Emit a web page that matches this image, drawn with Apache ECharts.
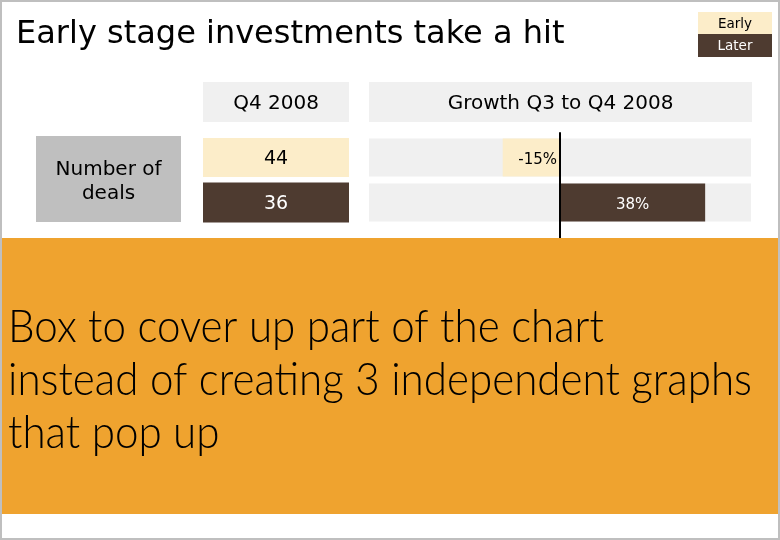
<!DOCTYPE html>
<html><head><meta charset="utf-8">
<script src="https://cdn.jsdelivr.net/npm/echarts@6/dist/echarts.min.js"></script>
<style>html,body{margin:0;padding:0;background:#fff}#c{width:780px;height:540px}</style>
</head><body><div id="c"></div>
<script>
// ---- data ----
const titleText = 'Early stage investments take a hit';
const stages = ['Early', 'Later'];
const deals = [44, 36];
const growth = [-15, 38];
const periodHeader = 'Q4 2008';
const growthHeader = 'Growth Q3 to Q4 2008';
const rowLabel = 'Number of\ndeals';
const overlayLines = ['Box to cover up part of the chart', 'instead of creating 3 independent graphs', 'that pop up'];

// ---- styles ----
const COLORS = ['#FCEDC9', '#4E3B30'];
const LABEL_COLORS = ['#000000', '#ffffff'];
const FONT = '"DejaVu Sans", Verdana, sans-serif';
const OVERLAY_FONT = '300 46px Lato, Roboto, "Open Sans", sans-serif';

// fit overlay text width
const ctx = document.createElement('canvas').getContext('2d');
ctx.font = OVERLAY_FONT;
const w2 = ctx.measureText(overlayLines[1]).width;
const overlayScale = 744 / w2;

const chart = echarts.init(document.getElementById('c'), null, {renderer: 'canvas'});

function cell(x, y, w, h, fill, text, color, size, lh, dy) {
  return {
    type: 'rect', shape: {x, y, width: w, height: h},
    style: {fill},
    textContent: {style: {text, fill: color, font: size + 'px ' + FONT, align: 'center', verticalAlign: 'middle', lineHeight: lh}},
    textConfig: {position: 'inside', offset: [0, dy || 0]}
  };
}

const option = {
  animation: false,
  backgroundColor: '#ffffff',
  title: {
    text: titleText, left: 11, top: 14,
    textStyle: {fontFamily: FONT, fontSize: 32, fontWeight: 'normal', color: '#000'}
  },
  grid: [
    {left: 369, width: 382, top: 135, height: 90},
    {left: 369, width: 382, top: 133, height: 105},
    {left: 203, width: 146, top: 135, height: 90}
  ],
  xAxis: [
    {gridIndex: 0, type: 'value', min: -50, max: 50, show: false},
    {gridIndex: 1, type: 'value', min: -50, max: 50, show: false},
    {gridIndex: 2, type: 'value', min: 0, max: 1, show: false}
  ],
  yAxis: [
    {gridIndex: 0, type: 'category', data: stages, inverse: true, show: false},
    {gridIndex: 1, type: 'value', min: 0, max: 1, z: 10,
      axisLine: {show: true, onZero: true, lineStyle: {color: '#000', width: 2}},
      axisTick: {show: false}, axisLabel: {show: false}, splitLine: {show: false}},
    {gridIndex: 2, type: 'category', data: stages, inverse: true, show: false}
  ],
  series: [
    {
      type: 'bar', xAxisIndex: 0, yAxisIndex: 0, barWidth: 38,
      showBackground: true, backgroundStyle: {color: '#F0F0F0'},
      data: growth.map((v, i) => ({
        value: v,
        itemStyle: {color: COLORS[i]},
        label: {
          show: true, position: i === 0 ? 'insideRight' : 'inside', distance: 3,
          offset: [0, 3],
          color: LABEL_COLORS[i], fontFamily: FONT, fontSize: 15,
          formatter: '{c}%'
        }
      }))
    },
    {
      type: 'custom', xAxisIndex: 2, yAxisIndex: 2,
      encode: {x: 0, y: 1},
      data: deals.map((v, i) => [0, i, v]),
      renderItem: (params, api) => {
        const idx = api.value(1);
        const p = api.coord([0, idx]);
        const cs = params.coordSys;
        const h = 39 + idx;
        return {
          type: 'rect',
          shape: {x: cs.x, y: p[1] - h / 2, width: cs.width, height: h},
          style: {fill: COLORS[idx]},
          textContent: {style: {text: String(api.value(2)), fill: LABEL_COLORS[idx], font: '19px ' + FONT}},
          textConfig: {position: 'inside', offset: [0, 2]}
        };
      }
    }
  ],
  graphic: [
    cell(203, 82, 146, 40, '#F0F0F0', periodHeader, '#000', 20, undefined, 2),
    cell(369, 82, 383, 40, '#F0F0F0', growthHeader, '#000', 20, undefined, 2),
    cell(36, 136, 145, 86, '#BFBFBF', rowLabel, '#000', 20, 24, 3),
    cell(698, 12, 74, 22, COLORS[0], stages[0], LABEL_COLORS[0], 13.5, undefined, 1),
    cell(698, 34, 74, 23, COLORS[1], stages[1], LABEL_COLORS[1], 13.5, undefined, 1),
    {type: 'rect', z: 100, shape: {x: 1, y: 238, width: 778, height: 276}, style: {fill: '#EFA32F'}},
    {type: 'text', z: 101, x: 8, y: 301, scaleX: overlayScale,
      style: {text: overlayLines.join('\n'), font: OVERLAY_FONT, fill: '#000', lineHeight: 53, verticalAlign: 'top', align: 'left'}},
    {type: 'rect', z: 200, shape: {x: 1, y: 1, width: 778, height: 538}, style: {fill: 'none', stroke: '#BFBFBF', lineWidth: 2}}
  ]
};
chart.setOption(option);
</script></body></html>
